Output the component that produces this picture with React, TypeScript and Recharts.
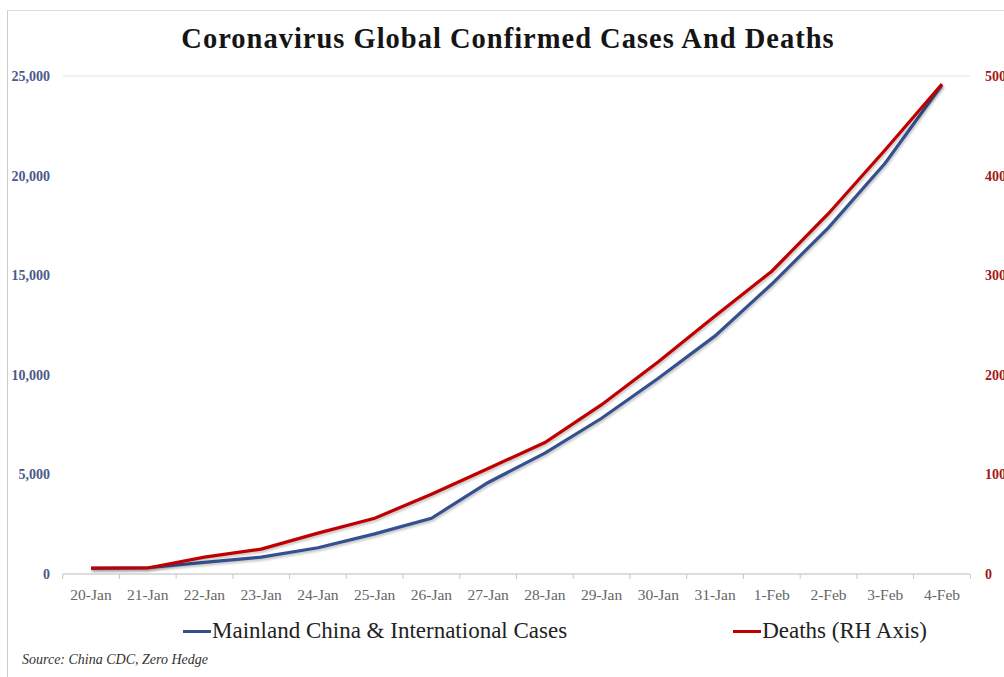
import React from 'react';
import { LineChart, Line, XAxis, YAxis, CartesianGrid, Legend } from 'recharts';

const dates = ['20-Jan', '21-Jan', '22-Jan', '23-Jan', '24-Jan', '25-Jan', '26-Jan', '27-Jan', '28-Jan', '29-Jan', '30-Jan', '31-Jan', '1-Feb', '2-Feb', '3-Feb', '4-Feb'];
const cases = [282, 314, 581, 846, 1320, 2014, 2798, 4593, 6065, 7818, 9826, 11953, 14557, 17391, 20630, 24554];
const deaths = [6, 6, 17, 25, 41, 56, 80, 106, 132, 170, 213, 259, 304, 362, 426, 492];
const leftTicks = [0, 5000, 10000, 15000, 20000, 25000];
const rightTicks = [0, 100, 200, 300, 400, 500];
const seriesOrder = ['cases', 'deaths'];

const data = dates.map((d, i) => ({ date: d, cases: cases[i], deaths: deaths[i] }));

const serif = '"Liberation Serif", "Times New Roman", serif';
const BLUE = '#34508f';
const RED = '#c00000';
const lineShadow = { filter: 'drop-shadow(1.5px 2px 1px rgba(0,0,0,0.22))' };

// Excel style: tick marks sit between categories, not under them
const XTick = (props: any) => {
  const { x, y, payload, index, visibleTicksCount } = props;
  const half = 28.35;
  return (
    <g>
      <line x1={x - half} x2={x - half} y1={y - 8} y2={y - 3} stroke="#c8c8c8" />
      {index === visibleTicksCount - 1 && (
        <line x1={x + half} x2={x + half} y1={y - 8} y2={y - 3} stroke="#c8c8c8" />
      )}
      <text x={x} y={y + 18} textAnchor="middle" fill="#666" fontSize={15.5} fontFamily={serif}>
        {payload.value}
      </text>
    </g>
  );
};

const renderLegend = (props: any) => {
  const items = [...props.payload].sort(
    (a: any, b: any) => seriesOrder.indexOf(a.dataKey) - seriesOrder.indexOf(b.dataKey)
  );
  return (
    <div style={{ display: 'flex', justifyContent: 'flex-start', gap: 166, fontFamily: serif, fontSize: 23, color: '#222', paddingLeft: 183 }}>
      {items.map((p: any) => (
        <div key={p.value} style={{ display: 'flex', alignItems: 'center' }}>
          <span style={{ display: 'inline-block', width: 28, height: 3, background: p.color, marginRight: 1 }} />
          <span>{p.value}</span>
        </div>
      ))}
    </div>
  );
};

export default function App() {
  return (
    <div style={{ position: 'relative', width: 1004, height: 677, background: '#fff', overflow: 'hidden' }}>
      <style>{'body{margin:0}'}</style>
      <div style={{ position: 'absolute', left: 7, top: 10, width: 1000, height: 680, borderLeft: '1px solid #ccc', borderTop: '1px solid #ddd' }} />
      <div style={{ position: 'absolute', top: 23, left: 0, width: 1016, textAlign: 'center', fontFamily: serif, fontSize: 28.5, fontWeight: 'bold', letterSpacing: 1, color: '#151515' }}>
        Coronavirus Global Confirmed Cases And Deaths
      </div>
      <LineChart width={1004} height={650} data={data} margin={{ top: 76, right: 0, left: 0, bottom: 0 }}>
        <CartesianGrid vertical={false} stroke="#e2e2e2" />
        <XAxis dataKey="date" height={50} padding={{ left: 28, right: 28 }} axisLine={{ stroke: '#c8c8c8' }} tickLine={false} tick={<XTick />} interval={0} />
        <YAxis
          yAxisId="left"
          width={63}
          domain={[0, 25000]}
          ticks={leftTicks}
          axisLine={false}
          tickLine={false}
          tickMargin={7}
          tickFormatter={(v: number) => v.toLocaleString('en-US')}
          tick={{ fill: '#4a5a8c', fontSize: 14, fontFamily: serif, fontWeight: 'bold' }}
        />
        <YAxis
          yAxisId="right"
          orientation="right"
          width={34}
          domain={[0, 500]}
          ticks={rightTicks}
          axisLine={false}
          tickLine={false}
          tickMargin={9}
          tick={{ fill: '#a01818', fontSize: 14, fontFamily: serif, fontWeight: 'bold', textAnchor: 'start' }}
        />
        <Legend verticalAlign="bottom" content={renderLegend} wrapperStyle={{ bottom: 6 }} />
        <Line yAxisId="left" type="linear" dataKey="cases" name="Mainland China & International Cases" stroke={BLUE} strokeWidth={3.2} dot={false} style={lineShadow} isAnimationActive={false} />
        <Line yAxisId="right" type="linear" dataKey="deaths" name="Deaths (RH Axis)" stroke={RED} strokeWidth={3.2} dot={false} style={lineShadow} isAnimationActive={false} />
      </LineChart>
      <div style={{ position: 'absolute', left: 22, top: 652, fontFamily: serif, fontStyle: 'italic', fontSize: 14, color: '#333' }}>
        Source: China CDC, Zero Hedge
      </div>
    </div>
  );
}
